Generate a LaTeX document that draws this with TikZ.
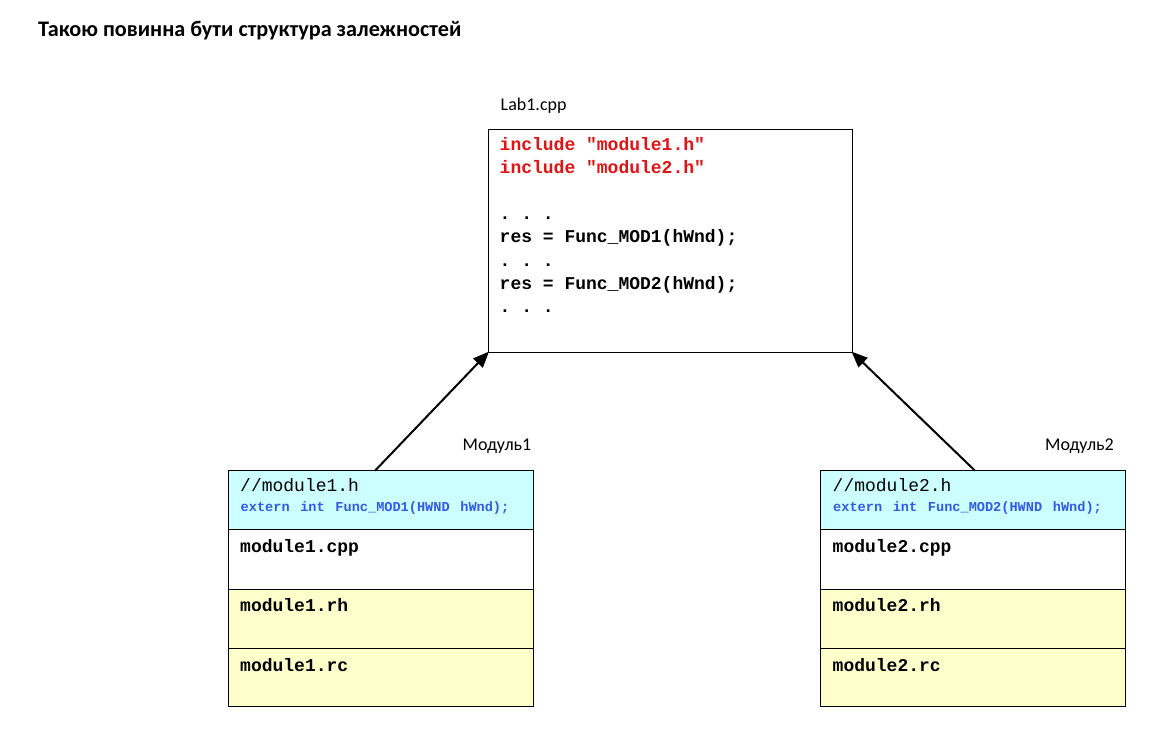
\documentclass[tikz,border=0pt]{standalone}
\usepackage{fontspec}
\setmainfont{Carlito}
\newfontfamily\codefont{Liberation Mono}[WordSpace={1,0,0},PunctuationSpace=WordSpace]
\usetikzlibrary{arrows.meta}
\definecolor{codered}{RGB}{225,20,20}
\definecolor{codeblue}{RGB}{50,90,230}
\definecolor{hdrcyan}{RGB}{204,255,255}
\definecolor{resyellow}{RGB}{255,255,204}
\tikzset{
  boxframe/.style={draw=black, line width=1pt, inner sep=0pt},
  lbl/.style={anchor=base west, inner sep=0pt, font=\fontsize{18}{20}\selectfont},
  bigcode/.style={anchor=base west, inner sep=0pt, font=\codefont\bfseries\fontsize{18}{20}\selectfont\frenchspacing},
  redcode/.style={bigcode, text=codered},
  hdrcode/.style={anchor=base west, inner sep=0pt, font=\codefont\fontsize{18}{20}\selectfont\frenchspacing},
  bluecode/.style={anchor=base west, inner sep=0pt, text=codeblue, font=\codefont\bfseries\fontsize{13.6}{16}\selectfont\frenchspacing},
  deparrow/.style={line width=2pt, -{Triangle[length=16pt,width=13pt]}, shorten >=-1pt},
}
\begin{document}
\begin{tikzpicture}[x=1pt,y=-1pt]
\useasboundingbox (0,0) rectangle (1156,748);
\fill[white] (0,0) rectangle (1156,748);

% title
\node[anchor=base west, inner sep=0pt, font=\bfseries\fontsize{22.2}{26}\selectfont] (title) at (38,36.7) {Такою повинна бути структура залежностей};

% main box
\node[lbl] (lablbl) at (500.5,110.7) {Lab1.cpp};
\draw[boxframe] (488.3,129.3) rectangle (852.3,352.3);
\coordinate (mainSW) at (488.3,352.3);
\coordinate (mainSE) at (852.3,352.3);
\node[redcode] (l1) at (499.5,150.5) {include "module1.h"};
\node[redcode] (l2) at (499.5,173.6) {include "module2.h"};
\node[bigcode] (l3) at (499.5,219.8) {. . .};
\node[bigcode] (l4) at (499.5,242.9) {res = Func\_MOD1(hWnd);};
\node[bigcode] (l5) at (499.5,266) {. . .};
\node[bigcode] (l6) at (499.5,289.1) {res = Func\_MOD2(hWnd);};
\node[bigcode] (l7) at (499.5,312.2) {. . .};

% module 1
\node[lbl] (m1lbl) at (462.5,450.7) {Модуль1};
\filldraw[boxframe, fill=hdrcyan] (228.3,470.7) rectangle (533.3,529.3);
\draw[boxframe, fill=white] (228.3,529.3) rectangle (533.3,589.3);
\filldraw[boxframe, fill=resyellow] (228.3,589.3) rectangle (533.3,648.3);
\filldraw[boxframe, fill=resyellow] (228.3,648.3) rectangle (533.3,706.7);
\coordinate (m1top) at (375,470.7);
\node[hdrcode] (m1h) at (240,491.5) {//module1.h};
\node[bluecode] (m1ext) at (240.5,511.5) {extern\hspace{2.5pt} int\hspace{2.5pt} Func\_MOD1(HWND\hspace{2.5pt} hWnd);};
\node[bigcode] (m1cpp) at (240,552) {module1.cpp};
\node[bigcode] (m1rh) at (240,611.5) {module1.rh};
\node[bigcode] (m1rc) at (240,671) {module1.rc};

% module 2
\node[lbl] (m2lbl) at (1045,450.7) {Модуль2};
\filldraw[boxframe, fill=hdrcyan] (820.7,470.7) rectangle (1125.7,529.3);
\draw[boxframe, fill=white] (820.7,529.3) rectangle (1125.7,589.3);
\filldraw[boxframe, fill=resyellow] (820.7,589.3) rectangle (1125.7,648.3);
\filldraw[boxframe, fill=resyellow] (820.7,648.3) rectangle (1125.7,706.7);
\coordinate (m2top) at (975,470.7);
\node[hdrcode] (m2h) at (832.5,491.5) {//module2.h};
\node[bluecode] (m2ext) at (833,511.5) {extern\hspace{2.5pt} int\hspace{2.5pt} Func\_MOD2(HWND\hspace{2.5pt} hWnd);};
\node[bigcode] (m2cpp) at (832.5,552) {module2.cpp};
\node[bigcode] (m2rh) at (832.5,611.5) {module2.rh};
\node[bigcode] (m2rc) at (832.5,671) {module2.rc};

% arrows
\draw[deparrow] (m1top) -- (mainSW);
\draw[deparrow] (m2top) -- (mainSE);
\end{tikzpicture}
\end{document}
